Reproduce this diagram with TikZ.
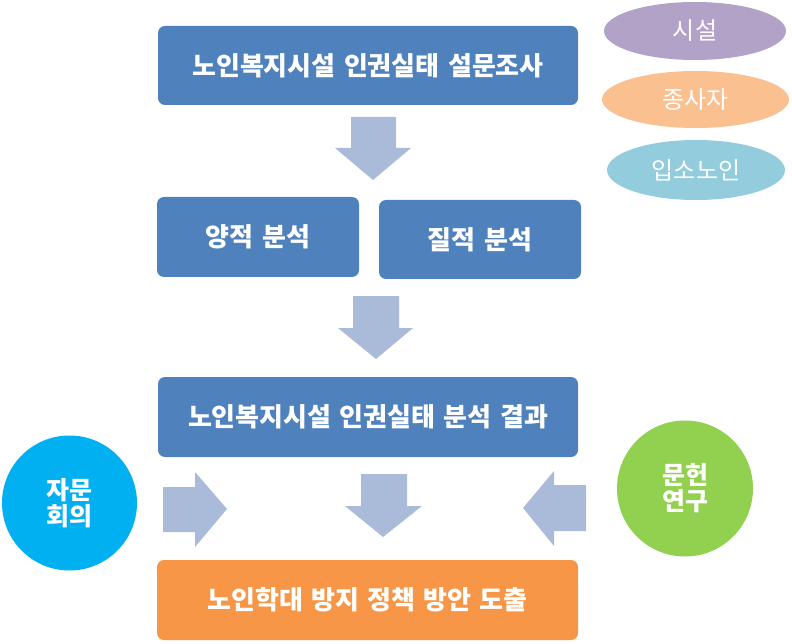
\documentclass[tikz,border=0pt]{standalone}
\usepackage{fontspec}
\setmainfont{Noto Sans CJK KR}[WordSpace=1.4]
\usetikzlibrary{shapes.geometric}
\definecolor{boxblue}{HTML}{4F81BD}
\definecolor{boxorange}{HTML}{F79646}
\definecolor{arrowblue}{HTML}{AABBD9}
\definecolor{elpurple}{HTML}{B3A2C7}
\definecolor{elorange}{HTML}{FAC090}
\definecolor{elcyan}{HTML}{93CDDD}
\definecolor{circblue}{HTML}{00B0F0}
\definecolor{circgreen}{HTML}{92D050}
\tikzset{
  flowbox/.style={fill=boxblue, rounded corners=7pt, text=white, font=\fontsize{26}{30}\selectfont\bfseries, inner sep=0pt},
  tagel/.style={ellipse, text=white, font=\fontsize{24}{28}\selectfont, inner sep=0pt},
  sidecirc/.style={circle, text=white, font=\fontsize{25}{28}\selectfont\bfseries, inner sep=0pt, align=center},
  blockarrow/.style={fill=arrowblue}
}
\begin{document}
\begin{tikzpicture}[x=1pt,y=-1pt]
\useasboundingbox (0,0) rectangle (792,644);
% boxes
\node[flowbox, minimum width=420pt, minimum height=79pt] (survey) at (368,65.5) {노인복지시설 인권실태 설문조사};
\node[flowbox, minimum width=202pt, minimum height=80pt] (quant) at (258,237) {양적 분석};
\node[flowbox, minimum width=202pt, minimum height=79pt] (qual) at (480,239.5) {질적 분석};
\node[flowbox, minimum width=420pt, minimum height=80pt] (result) at (368,417) {노인복지시설 인권실태 분석 결과};
\node[flowbox, fill=boxorange, minimum width=421pt, minimum height=80pt] (policy) at (367.5,600) {노인학대 방지 정책 방안 도출};
% ellipses
\node[tagel, fill=elpurple, minimum width=182pt, minimum height=58pt] (fac) at (695,31) {시설};
\node[tagel, fill=elorange, minimum width=187pt, minimum height=57pt] (staff) at (695.5,99.5) {종사자};
\node[tagel, fill=elcyan, minimum width=178pt, minimum height=60pt] (resid) at (696,170) {입소노인};
% circles
\node[sidecirc, fill=circblue, minimum size=135pt] (advice) at (69.5,503) {자문\\[-2pt]회의};
\node[sidecirc, fill=circgreen, minimum size=136pt] (lit) at (685,488.5) {문헌\\[-2pt]연구};
% block arrows
\fill[blockarrow] (351,117) -- (396,117) -- (396,148) -- (411,148) -- (373,180) -- (335,148) -- (351,148) -- cycle;
\fill[blockarrow] (353,296) -- (399,296) -- (399,328) -- (413,328) -- (376,359) -- (338,328) -- (353,328) -- cycle;
\fill[blockarrow] (361,474) -- (407,474) -- (407,506) -- (422,506) -- (383,537) -- (345,506) -- (361,506) -- cycle;
\fill[blockarrow] (163,487) -- (195,487) -- (195,472) -- (227,509) -- (195,547) -- (195,532) -- (163,532) -- cycle;
\fill[blockarrow] (586,485) -- (554,485) -- (554,471) -- (523,508) -- (554,546) -- (554,531) -- (586,531) -- cycle;
\end{tikzpicture}
\end{document}
